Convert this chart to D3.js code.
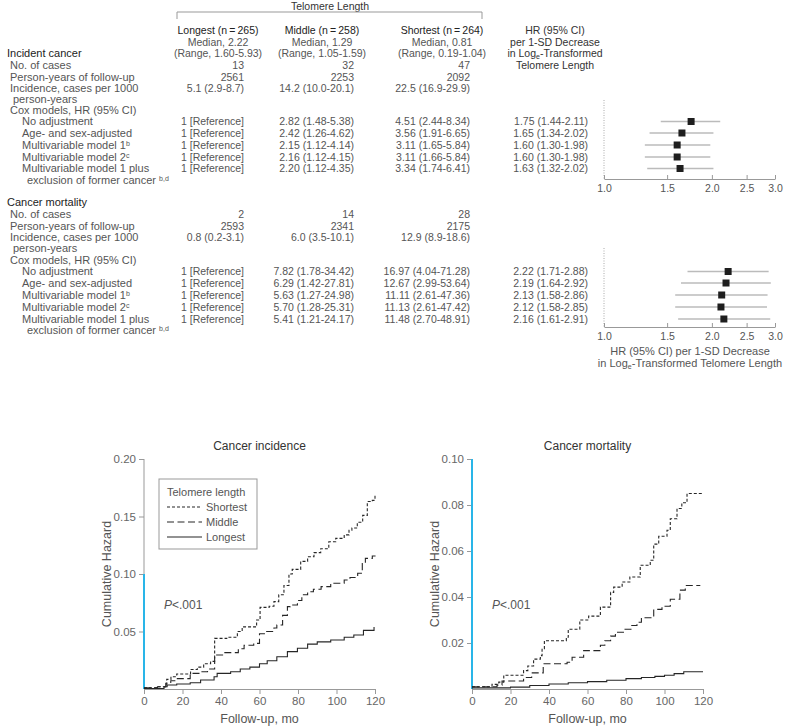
<!DOCTYPE html>
<html>
<head>
<meta charset="utf-8">
<script src="https://cdn.jsdelivr.net/npm/d3@7"></script>
<style>
body { margin: 0; background: #fff; }
svg text { font-family: "Liberation Sans", Arial, sans-serif; }
</style>
</head>
<body>
<svg id="chart"></svg>
<script>
// ---- table data ----
var groupNames = ["Longest", "Middle", "Shortest"];
var groupN = [265, 258, 264];
var groupMedian = ["2.22", "1.29", "0.81"];
var groupRange = ["1.60-5.93", "1.05-1.59", "0.19-1.04"];

var rowLabels = ["No. of cases", "Person-years of follow-up", "Incidence, cases per 1000", "person-years",
    "Cox models, HR (95% CI)", "No adjustment", "Age- and sex-adjusted", "Multivariable model 1",
    "Multivariable model 2", "Multivariable model 1 plus", "exclusion of former cancer "];
var rowSup = ["", "", "", "", "", "", "", "b", "c", "", "b,d"];

var incCases = [13, 32, 47];
var incPY = [2561, 2253, 2092];
var incRate = [[5.1, 2.9, 8.7], [14.2, 10.0, 20.1], [22.5, 16.9, 29.9]];
var incMiddleHR = [[2.82, 1.48, 5.38], [2.42, 1.26, 4.62], [2.15, 1.12, 4.14], [2.16, 1.12, 4.15], [2.20, 1.12, 4.35]];
var incShortestHR = [[4.51, 2.44, 8.34], [3.56, 1.91, 6.65], [3.11, 1.65, 5.84], [3.11, 1.66, 5.84], [3.34, 1.74, 6.41]];
var incTrendHR = [[1.75, 1.44, 2.11], [1.65, 1.34, 2.02], [1.60, 1.30, 1.98], [1.60, 1.30, 1.98], [1.63, 1.32, 2.02]];

var morCases = [2, 14, 28];
var morPY = [2593, 2341, 2175];
var morRate = [[0.8, 0.2, 3.1], [6.0, 3.5, 10.1], [12.9, 8.9, 18.6]];
var morMiddleHR = [[7.82, 1.78, 34.42], [6.29, 1.42, 27.81], [5.63, 1.27, 24.98], [5.70, 1.28, 25.31], [5.41, 1.21, 24.17]];
var morShortestHR = [[16.97, 4.04, 71.28], [12.67, 2.99, 53.64], [11.11, 2.61, 47.36], [11.13, 2.61, 47.42], [11.48, 2.70, 48.91]];
var morTrendHR = [[2.22, 1.71, 2.88], [2.19, 1.64, 2.92], [2.13, 1.58, 2.86], [2.12, 1.58, 2.85], [2.16, 1.61, 2.91]];

var forestTicks = [1.0, 1.5, 2.0, 2.5, 3.0];

// ---- cumulative hazard curves (month, hazard after the step) ----
var incShortT = [0, 7, 11.8, 14, 17, 24.2, 27.7, 31, 34.6, 36.7, 43, 48.5, 51, 58.5, 60.3, 65, 67.5, 70, 72.7, 75.3, 77, 81.4, 85, 88.3, 91.8, 96, 99.6, 104, 106.5, 108, 110.8, 113.6, 116, 118.6, 120];
var incShortH = [0.001, 0.002, 0.0084, 0.0107, 0.013, 0.017, 0.019, 0.022, 0.024, 0.044, 0.045, 0.05, 0.054, 0.06, 0.071, 0.072, 0.076, 0.082, 0.09, 0.10, 0.104, 0.111, 0.115, 0.1186, 0.122, 0.128, 0.131, 0.134, 0.138, 0.14, 0.145, 0.151, 0.163, 0.164, 0.168];
var incMidT = [0, 7, 11.3, 13.9, 17.3, 24, 29.4, 33, 36.7, 41.6, 49, 52, 57, 60, 63, 67.5, 69, 72, 74.5, 76, 79.7, 82, 85, 88, 92, 97, 104, 107, 111, 113.4, 115, 118.6, 120];
var incMidH = [0.001, 0.002, 0.005, 0.0072, 0.009, 0.0136, 0.015, 0.0174, 0.0296, 0.0316, 0.035, 0.038, 0.0397, 0.048, 0.050, 0.053, 0.0557, 0.064, 0.0716, 0.073, 0.077, 0.082, 0.0846, 0.0867, 0.089, 0.092, 0.0948, 0.097, 0.1006, 0.109, 0.1136, 0.1157, 0.116];
var incLongT = [0, 10.4, 12, 17, 24, 29.4, 36.4, 38, 45, 50, 55, 60, 64, 69, 74.5, 79.7, 85, 90, 97, 104, 109, 114, 119.5];
var incLongH = [0.0005, 0.002, 0.0035, 0.0043, 0.0055, 0.0078, 0.0107, 0.0136, 0.015, 0.0174, 0.019, 0.022, 0.0246, 0.028, 0.0325, 0.0354, 0.039, 0.041, 0.0426, 0.045, 0.047, 0.051, 0.054];

var morShortT = [0, 10.4, 13.9, 16.5, 26.8, 29, 32, 35.5, 36.4, 37.6, 49, 50, 56, 60.6, 66.7, 72, 73.6, 78, 82, 87.4, 92.6, 94.4, 97, 101.3, 103, 106.5, 109, 111.7, 120];
var morShortH = [0.001, 0.002, 0.003, 0.006, 0.008, 0.010, 0.013, 0.0145, 0.0175, 0.021, 0.0225, 0.026, 0.030, 0.0317, 0.0356, 0.042, 0.0443, 0.0465, 0.0487, 0.0538, 0.056, 0.063, 0.0664, 0.069, 0.074, 0.0785, 0.081, 0.085, 0.085];
var morMidT = [0, 13, 15.6, 26.8, 31, 37, 49.4, 52, 58, 66.7, 69, 72, 74.5, 79, 83, 85.7, 88, 94.4, 98.7, 103, 108, 110.8, 118.6];
var morMidH = [0.001, 0.0017, 0.0035, 0.005, 0.007, 0.011, 0.0116, 0.0138, 0.0167, 0.019, 0.021, 0.023, 0.0247, 0.026, 0.0276, 0.029, 0.031, 0.0346, 0.036, 0.039, 0.043, 0.045, 0.045];
var morLongT = [0, 20, 30, 40, 50, 60, 70, 80, 88, 95, 100, 105, 110, 120];
var morLongH = [0.0005, 0.0008, 0.0015, 0.0022, 0.0027, 0.0032, 0.0038, 0.0045, 0.005, 0.0055, 0.006, 0.0067, 0.0075, 0.0075];

var monthTicks = [0, 20, 40, 60, 80, 100, 120];
var incHazardTicks = [0.05, 0.10, 0.15, 0.20];
var morHazardTicks = [0.02, 0.04, 0.06, 0.08, 0.10];
var legendNames = ["Shortest", "Middle", "Longest"];

// ---- drawing ----
var width = 788;
var height = 726;

var svg = d3.select("#chart")
    .attr("width", width)
    .attr("height", height);

var f1 = d3.format(".1f");
var f2 = d3.format(".2f");
var ci = function(t, f) { return f(t[0]) + " (" + f(t[1]) + "-" + f(t[2]) + ")"; };

var colX = [244, 354, 470, 588];     // right edges of value columns
var headX = [218, 322, 442];         // centres of column headers
var dark = "#222";
var grey = "#555";
var fs = 11;
var fsVal = 10.5;

var addText = function(x, y, str, anchor, color, size)
{
    return svg.append("text")
        .attr("x", x)
        .attr("y", y)
        .attr("dy", "0.35em")
        .attr("text-anchor", anchor || "start")
        .attr("fill", color || grey)
        .style("font-size", (size || fs) + "px")
        .text(str);
};

var addSub = function(t, s, shift)
{
    t.append("tspan")
        .attr("dy", shift)
        .style("font-size", "7px")
        .text(s);
    return t.append("tspan").attr("dy", -shift);
};

// header
addText(330, 6, "Telomere Length", "middle", "#333", 10.5);
svg.append("path")
    .attr("d", "M177,19V12H482V19")
    .attr("fill", "none")
    .attr("stroke", "#999");

groupNames.forEach(function(name, i)
{
    addText(headX[i], 30, name + " (n\u2009=\u2009" + groupN[i] + ")", "middle", dark, fsVal);
    addText(headX[i], 42, "Median, " + groupMedian[i], "middle", grey, fsVal);
    addText(headX[i], 53, "(Range, " + groupRange[i] + ")", "middle", grey, fsVal);
});

addText(555, 30, "HR (95% CI)", "middle", "#333", fsVal);
addText(555, 42, "per 1-SD Decrease", "middle", "#333", fsVal);
var logT = addText(555, 53, "in Log", "middle", "#333", fsVal);
addSub(logT, "e", 2).text("-Transformed");
addText(555, 65, "Telomere Length", "middle", "#333", fsVal);

var indent = [10, 10, 10, 13, 10, 22, 22, 22, 22, 22, 27];

var drawSection = function(title, titleY, ys, cases, py, rate, midHR, shortHR, trendHR)
{
    addText(7, titleY, title, "start", dark);

    rowLabels.forEach(function(lab, i)
    {
        var t = addText(indent[i], ys[i], lab, "start", grey);
        if (rowSup[i] != "")
        {
            t.append("tspan")
                .attr("baseline-shift", "super")
                .style("font-size", "7px")
                .text(rowSup[i]);
        }
    });

    // first three rows: counts, person-years, rates
    for (var g = 0; g < 3; g++)
    {
        addText(colX[g], ys[0], cases[g], "end", grey, fsVal);
        addText(colX[g], ys[1], py[g], "end", grey, fsVal);
        addText(colX[g], ys[2], ci(rate[g], f1), "end", grey, fsVal);
    }
    // cox model rows
    for (var r = 0; r < 5; r++)
    {
        var y = ys[5 + r];
        addText(colX[0], y, "1 [Reference]", "end", grey, fsVal);
        addText(colX[1], y, ci(midHR[r], f2), "end", grey, fsVal);
        addText(colX[2], y, ci(shortHR[r], f2), "end", grey, fsVal);
        addText(colX[3], y, ci(trendHR[r], f2), "end", grey, fsVal);
    }
};

var incY = [65, 77, 88.5, 99, 110.5, 121.5, 133, 145, 157, 168.5, 180];
var morY = [214, 226, 237, 248, 260, 271.5, 283, 295, 307, 319, 330.5];

drawSection("Incident cancer", 53, incY, incCases, incPY, incRate, incMiddleHR, incShortestHR, incTrendHR);
drawSection("Cancer mortality", 202, morY, morCases, morPY, morRate, morMiddleHR, morShortestHR, morTrendHR);

// forest plots
var xForest = d3.scaleLog()
    .domain([1, 3])
    .range([604, 775]);

var drawForest = function(hr, ys, axisY, topY)
{
    var g = svg.append("g");

    g.append("line")
        .attr("x1", xForest(1)).attr("x2", xForest(1))
        .attr("y1", topY).attr("y2", axisY)
        .attr("stroke", "#aaa")
        .attr("stroke-dasharray", "1,1.5");

    g.selectAll(".ci")
        .data(hr)
        .enter()
        .append("line")
        .attr("x1", function(d) { return xForest(d[1]); })
        .attr("x2", function(d) { return xForest(d[2]); })
        .attr("y1", function(d, i) { return ys[i]; })
        .attr("y2", function(d, i) { return ys[i]; })
        .attr("stroke", "#bbb")
        .attr("stroke-width", 1.5);

    g.selectAll(".pt")
        .data(hr)
        .enter()
        .append("rect")
        .attr("x", function(d) { return xForest(d[0]) - 3.5; })
        .attr("y", function(d, i) { return ys[i] - 3.5; })
        .attr("width", 7)
        .attr("height", 7)
        .attr("fill", "#1e1e1e");

    var ax = g.append("g")
        .attr("transform", "translate(0," + axisY + ")")
        .call(d3.axisBottom(xForest)
            .tickValues(forestTicks)
            .tickFormat(f1)
            .tickSize(-4)
            .tickSizeOuter(0)
            .tickPadding(6));
    ax.select(".domain").attr("stroke", "#999");
    ax.selectAll(".tick line").attr("stroke", "#999");
    ax.selectAll(".tick text")
        .attr("fill", grey)
        .style("font-size", "10.5px")
        .style("font-family", "Liberation Sans, Arial, sans-serif");
};

drawForest(incTrendHR, incY.slice(5, 10), 179, 100);
drawForest(morTrendHR, morY.slice(5, 10), 327, 248);

addText(690, 351, "HR (95% CI) per 1-SD Decrease", "middle", grey);
var lt2 = addText(690, 363, "in Log", "middle", grey);
addSub(lt2, "e", 2).text("-Transformed Telomere Length");

// cumulative hazard charts
var dashes = ["3,2", "7,3.5", null];

var drawKM = function(cfg)
{
    var x = d3.scaleLinear().domain([0, 120]).range([cfg.x0, cfg.x0 + 231]);
    var y = d3.scaleLinear().domain([0, cfg.yMax]).range([689, 459]);
    var g = svg.append("g");

    var xa = g.append("g")
        .attr("transform", "translate(0,689)")
        .call(d3.axisBottom(x).tickValues(monthTicks).tickSize(5).tickSizeOuter(0).tickPadding(3));
    xa.select(".domain").attr("stroke", "#999");

    var ya = g.append("g")
        .attr("transform", "translate(" + cfg.x0 + ",0)")
        .call(d3.axisLeft(y).tickValues(cfg.yTicks).tickFormat(f2).tickSize(5).tickSizeOuter(0).tickPadding(3));
    ya.select(".domain").remove();

    g.selectAll(".tick line").attr("stroke", "#999");
    g.selectAll(".tick text")
        .attr("fill", "#666")
        .style("font-size", "11.5px")
        .style("font-family", "Liberation Sans, Arial, sans-serif");

    if (cfg.yMax > 0.1)
    {
        g.append("line")
            .attr("x1", cfg.x0).attr("x2", cfg.x0)
            .attr("y1", y(cfg.yMax)).attr("y2", y(0.1))
            .attr("stroke", "#999");
    }
    g.append("line")
        .attr("x1", cfg.x0).attr("x2", cfg.x0)
        .attr("y1", y(0.1)).attr("y2", y(0))
        .attr("stroke", "#29b5e8")
        .attr("stroke-width", 2);

    var line = d3.line()
        .x(function(d) { return x(d[0]); })
        .y(function(d) { return y(d[1]); })
        .curve(d3.curveStepAfter);

    cfg.series.forEach(function(s, i)
    {
        var pts = s[0].map(function(t, j) { return [t, s[1][j]]; });
        g.append("path")
            .attr("d", line(pts))
            .attr("fill", "none")
            .attr("stroke", "#262626")
            .attr("stroke-width", 1.1)
            .attr("stroke-dasharray", dashes[i]);
    });

    var cx = cfg.x0 + 115.5;
    addText(cx, 446, cfg.title, "middle", "#333", 12);
    addText(cx, 719, "Follow-up, mo", "middle", grey, 12.5);
    svg.append("text")
        .attr("transform", "translate(" + (cfg.x0 - 37) + "," + y(cfg.yMax / 2) + ") rotate(-90)")
        .attr("dy", "0.35em")
        .attr("text-anchor", "middle")
        .attr("fill", grey)
        .style("font-size", "12.5px")
        .text("Cumulative Hazard");

    var p = addText(cfg.x0 + 20, 605, "", "start", grey, 12);
    p.append("tspan").style("font-style", "italic").text("P");
    p.append("tspan").text("<.001");

    if (cfg.legend)
    {
        var lg = g.append("g");
        lg.append("rect")
            .attr("x", 159).attr("y", 479)
            .attr("width", 98).attr("height", 70)
            .attr("fill", "#fff")
            .attr("stroke", "#999");
        addText(167, 492, "Telomere length", "start", grey, 11);
        legendNames.forEach(function(n, i)
        {
            var ly = 507 + i * 15;
            lg.append("line")
                .attr("x1", 167).attr("x2", 202)
                .attr("y1", ly).attr("y2", ly)
                .attr("stroke", "#262626")
                .attr("stroke-width", 1.1)
                .attr("stroke-dasharray", dashes[i]);
            addText(206, ly, n, "start", grey, 11);
        });
    }
};

drawKM({
    x0: 144, yMax: 0.2, yTicks: incHazardTicks, title: "Cancer incidence", legend: true,
    series: [[incShortT, incShortH], [incMidT, incMidH], [incLongT, incLongH]]
});
drawKM({
    x0: 472, yMax: 0.1, yTicks: morHazardTicks, title: "Cancer mortality", legend: false,
    series: [[morShortT, morShortH], [morMidT, morMidH], [morLongT, morLongH]]
});
</script>
</body>
</html>
